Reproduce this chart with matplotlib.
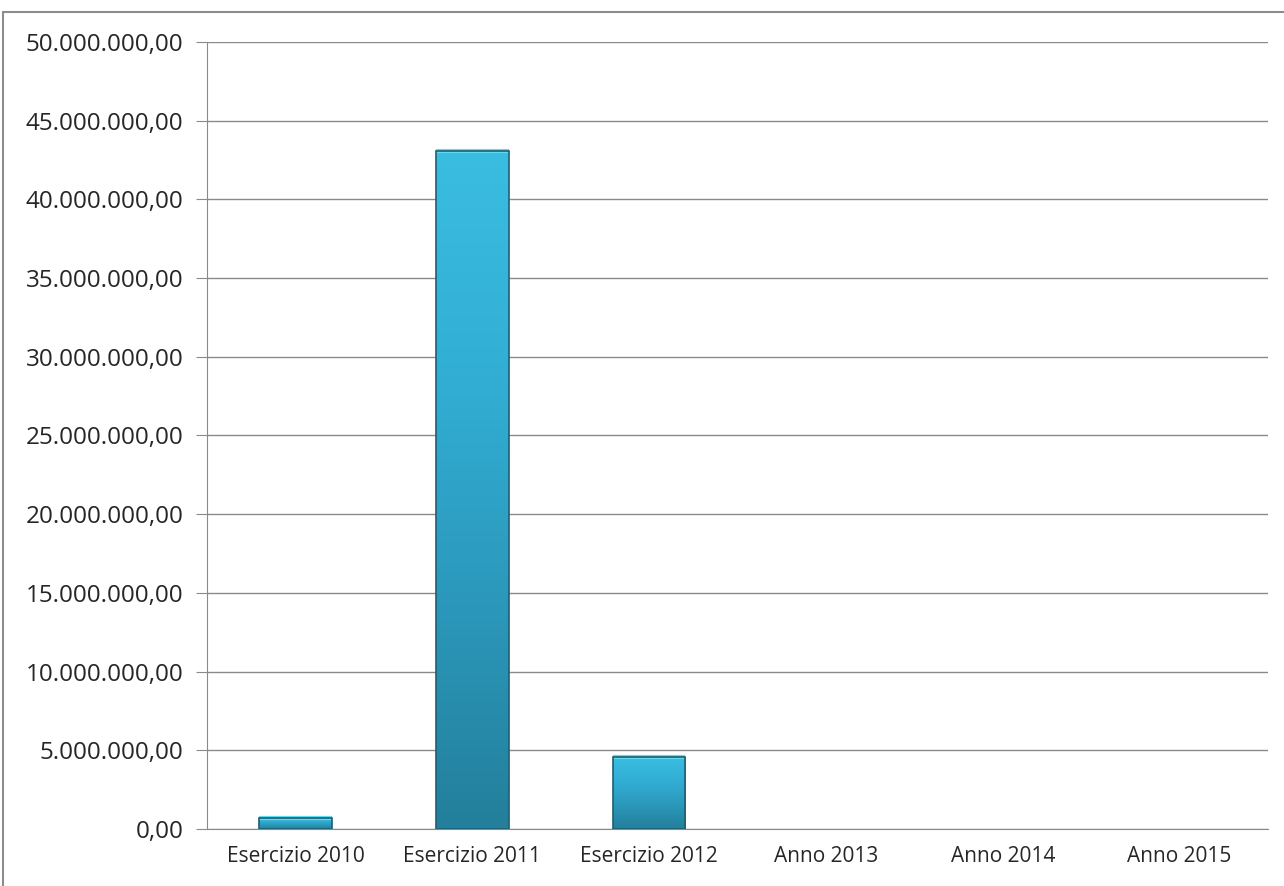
import numpy as np
import matplotlib.pyplot as plt
import matplotlib.ticker as ticker
from matplotlib.patches import Rectangle
from matplotlib.colors import LinearSegmentedColormap

categories = ["Esercizio 2010", "Esercizio 2011", "Esercizio 2012",
              "Anno 2013", "Anno 2014", "Anno 2015"]
values = [700000, 43050000, 4570000, 0, 0, 0]
yticks = np.arange(0, 50000001, 5000000)


def it_fmt(v, pos):
    s = "{:,.2f}".format(v)
    return s.replace(",", "X").replace(".", ",").replace("X", ".")


plt.rcParams['font.family'] = ['Open Sans', 'DejaVu Sans']

fig = plt.figure(figsize=(12.84, 8.86), dpi=100)
fig.patch.set_facecolor('white')
# outer chart frame
fig.patches.append(Rectangle((3 / 1284, -0.01), 1.02, 1 - 12 / 886 + 0.01,
                             transform=fig.transFigure, fill=False,
                             edgecolor='#8c8c8c', linewidth=1.5))

ax = fig.add_axes([207 / 1284, 1 - 829 / 886, (1268 - 207) / 1284, (829 - 42) / 886])

grad = LinearSegmentedColormap.from_list('bar', ['#237f9b', '#2b98bb', '#32aed4', '#3abde1'])
x = np.arange(len(categories))
width = 0.41
for xi, v in zip(x, values):
    if v <= 0:
        continue
    b = ax.bar(xi, v, width=width, color='none', edgecolor='#1f5f73', linewidth=1.2, zorder=4)[0]
    img = ax.imshow(np.linspace(0, 1, 256).reshape(-1, 1), cmap=grad, origin='lower',
                    extent=[xi - width / 2, xi + width / 2, 0, v], aspect='auto', zorder=3)
    img.set_clip_path(b)
    # light rim at the top of each bar
    ax.plot([xi - width / 2, xi + width / 2], [v, v], color='#5fdcf2', linewidth=3, zorder=3.5,
            solid_capstyle='butt')

ax.set_xlim(-0.5, len(categories) - 0.5)
ax.set_ylim(0, 50000000)
ax.set_aspect('auto')
ax.set_yticks(yticks)
ax.yaxis.set_major_formatter(ticker.FuncFormatter(it_fmt))
ax.set_xticks(x)
ax.set_xticklabels(categories)

ax.yaxis.grid(True, color='#8a8a8a', linewidth=1.0, zorder=0)
ax.set_axisbelow(True)
for s in ['top', 'right']:
    ax.spines[s].set_visible(False)
ax.spines['left'].set_color('#8a8a8a')
ax.spines['bottom'].set_color('#8a8a8a')
ax.tick_params(axis='y', length=8, color='#8a8a8a', labelsize=17.5, labelcolor='#262626', pad=9)
ax.tick_params(axis='x', length=0, labelsize=15, labelcolor='#262626', pad=12)

fig.savefig('out.png', dpi=100)
